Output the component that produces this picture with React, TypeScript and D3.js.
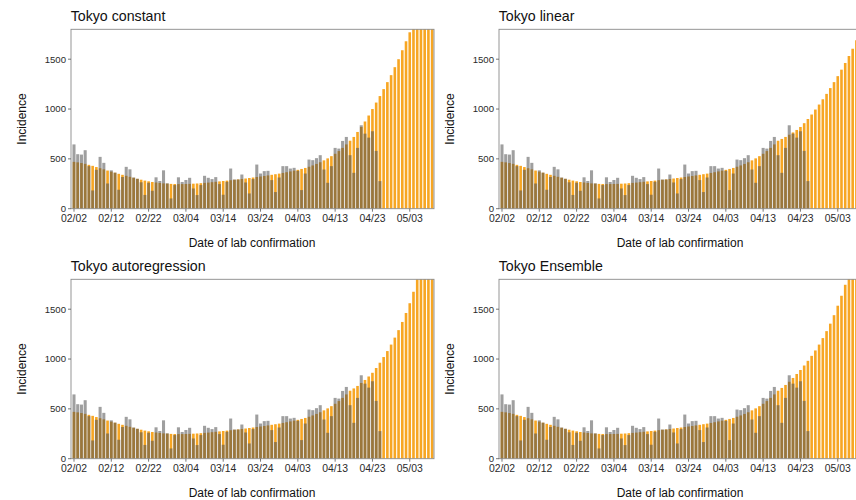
import React from 'react';
import * as d3 from 'd3';

// Observed daily incidence (gray), 2021-02-02 .. 2021-04-25
const observed: number[] = [
  645, 547, 543, 587, 427, 183, 390, 520, 460, 253,
  385, 362, 190, 318, 420, 395, 313, 300, 265, 138,
  260, 180, 315, 278, 385, 255, 103, 237, 315, 268,
  288, 310, 203, 137, 237, 330, 310, 297, 317, 247,
  140, 270, 403, 293, 293, 343, 263, 153, 297, 443,
  353, 377, 380, 287, 167, 313, 427, 427, 403, 410,
  380, 187, 353, 493, 487, 507, 537, 393, 260, 427,
  610, 603, 680, 720, 537, 360, 610, 837, 753, 713,
  777, 580, 277,
];

// Shared fitted values (orange), 2021-02-02 .. 2021-04-17
const fittedBase: number[] = [
  470, 465, 458, 450, 440, 430, 418, 406, 395, 383,
  372, 361, 350, 340, 330, 320, 310, 300, 291, 282,
  275, 268, 263, 258, 254, 251, 249, 248, 247, 247,
  248, 249, 251, 253, 256, 259, 262, 266, 270, 274,
  278, 282, 286, 290, 294, 298, 303, 308, 313, 318,
  323, 328, 334, 340, 346, 352, 359, 366, 374, 382,
  390, 399, 409, 421, 434, 449, 466, 485, 505, 527,
  551, 578, 610, 645, 682,
];

// Model-specific fitted / projected values, 2021-04-18 .. 2021-05-09
const tailConstant: number[] = [
  720, 770, 820, 875, 935, 1000, 1065, 1130, 1200, 1270, 1340,
  1420, 1500, 1590, 1680, 1770, 1870, 1970, 2080, 2190, 2310, 2430,
];
const tailLinear: number[] = [
  700, 720, 742, 765, 790, 820, 858, 900, 945, 995, 1045,
  1098, 1152, 1210, 1270, 1330, 1395, 1462, 1532, 1605, 1690, 1770,
];
const tailAutoregression: number[] = [
  705, 730, 760, 790, 825, 862, 910, 963, 1020, 1080, 1145,
  1215, 1290, 1372, 1462, 1560, 1675, 1800, 1930, 2070, 2220, 2380,
];
const tailEnsemble: number[] = [
  710, 740, 772, 810, 850, 890, 935, 982, 1032, 1086, 1145,
  1210, 1280, 1355, 1440, 1535, 1635, 1745, 1860, 1980, 2110, 2250,
];

const panelTitles: string[] = ['Tokyo constant', 'Tokyo linear', 'Tokyo autoregression', 'Tokyo Ensemble'];
const panelTails: number[][] = [tailConstant, tailLinear, tailAutoregression, tailEnsemble];
const xTickLabels: string[] = ['02/02', '02/12', '02/22', '03/04', '03/14', '03/24', '04/03', '04/13', '04/23', '05/03'];
const yTicks: number[] = [0, 500, 1000, 1500];

const START = new Date(2021, 1, 2);
const DAY = 86400000;
const ORANGE = '#F7A623';
const GRAY = '#505050';
const FONT = "'Liberation Sans', Arial, Helvetica, sans-serif";

const PW = 363; // panel width
const PH = 179.4; // panel height
const LEFT = 71;
const TOP = 29.3;

function Panel({ idx }: { idx: number }) {
  const col = idx % 2;
  const row = Math.floor(idx / 2);
  const ox = col * 428;
  const oy = row * 250;
  const fitted = fittedBase.concat(panelTails[idx]);
  const dates = fitted.map((_, i) => new Date(START.getTime() + i * DAY));

  const x = d3
    .scaleTime()
    .domain([new Date(START.getTime() - 0.8 * DAY), new Date(START.getTime() + 96.5 * DAY)])
    .range([0, PW]);
  const y = d3.scaleLinear().domain([0, 1800]).range([PH, 0]);
  const step = x(new Date(START.getTime() + DAY)) - x(START);
  const bwF = step * 0.7;
  const bwO = step * 0.82;
  const clipId = `clip-${idx}`;
  const tickDates = xTickLabels.map((_, i) => new Date(START.getTime() + i * 10 * DAY));

  return (
    <g transform={`translate(${ox + LEFT},${oy + TOP})`}>
      <defs>
        <clipPath id={clipId}>
          <rect x={0} y={0} width={PW} height={PH} />
        </clipPath>
      </defs>
      <text x={-0.3} y={-8.6} fontSize={14.2} fontFamily={FONT} fill="#111">
        {panelTitles[idx]}
      </text>
      <g clipPath={`url(#${clipId})`}>
        {fitted.map((v, i) => (
          <rect key={'f' + i} x={x(dates[i]) - bwF / 2} y={y(v)} width={bwF} height={PH - y(v)} fill={ORANGE} />
        ))}
        {observed.map((v, i) => (
          <rect
            key={'o' + i}
            x={x(dates[i]) - bwO / 2}
            y={y(v)}
            width={bwO}
            height={PH - y(v)}
            fill={GRAY}
            fillOpacity={0.55}
          />
        ))}
      </g>
      <rect x={0} y={0} width={PW} height={PH} fill="none" stroke="#8a8a8a" strokeWidth={0.9} />
      {yTicks.map((t) => (
        <g key={'y' + t} transform={`translate(0,${y(t)})`}>
          <line x1={-3} x2={0} stroke="#555" strokeWidth={0.8} />
          <text x={-5} dy="0.35em" textAnchor="end" fontSize={9.6} fontFamily={FONT} fill="#2a2a2a">
            {t}
          </text>
        </g>
      ))}
      {tickDates.map((d, i) => (
        <g key={'x' + i} transform={`translate(${x(d)},${PH})`}>
          <line y1={0} y2={3} stroke="#555" strokeWidth={0.8} />
          <text y={13} textAnchor="middle" fontSize={10.4} fontFamily={FONT} fill="#2a2a2a">
            {xTickLabels[i]}
          </text>
        </g>
      ))}
      <text
        transform={`translate(${-49.3},${PH / 2}) rotate(-90)`}
        textAnchor="middle"
        dy="0.35em"
        fontSize={12}
        fontFamily={FONT}
        fill="#111"
      >
        Incidence
      </text>
      <text x={PW / 2 - 0.5} y={PH + 38} textAnchor="middle" fontSize={12} fontFamily={FONT} fill="#111">
        Date of lab confirmation
      </text>
    </g>
  );
}

export default function App() {
  return (
    <svg
      width={856}
      height={500}
      viewBox="0 0 856 500"
      style={{ position: 'absolute', left: 0, top: 0, background: '#fff' }}
    >
      <rect width={856} height={500} fill="#fff" />
      {[0, 1, 2, 3].map((i) => (
        <Panel key={i} idx={i} />
      ))}
    </svg>
  );
}
